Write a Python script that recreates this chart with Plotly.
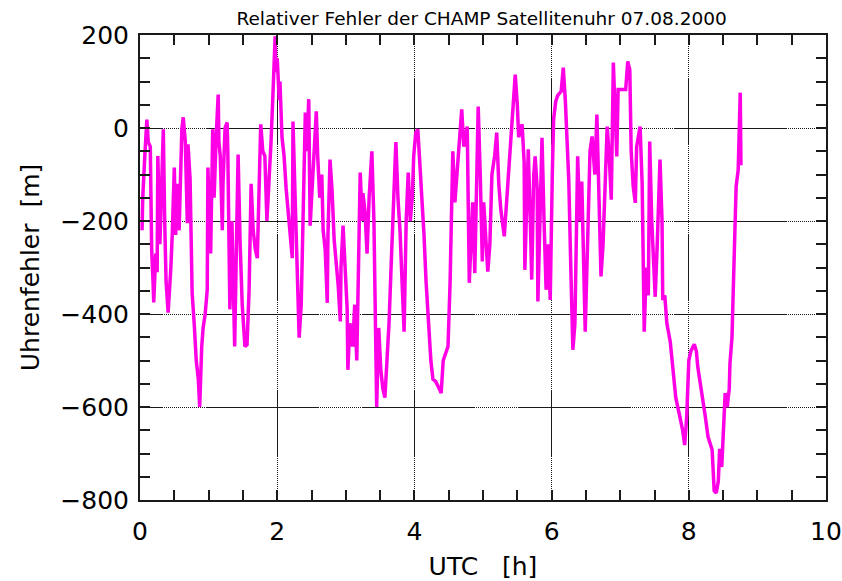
import plotly.graph_objects as go

# ---- data ----
utc_hours = [
    0.03, 0.04, 0.07, 0.10, 0.12, 0.15, 0.16, 0.17, 0.19, 0.20, 0.23, 0.25, 0.26, 0.28, 0.29, 0.31,
    0.34, 0.36, 0.38, 0.41, 0.44, 0.45, 0.47, 0.50, 0.52, 0.54, 0.57, 0.60, 0.61, 0.63, 0.66, 0.69,
    0.70, 0.73, 0.76, 0.79, 0.82, 0.85, 0.87, 0.90, 0.92, 0.95, 0.98, 0.99,
    1.02, 1.03, 1.06, 1.08, 1.11, 1.14, 1.15, 1.17, 1.20, 1.21, 1.24, 1.27, 1.28, 1.31, 1.34, 1.38,
    1.40, 1.43, 1.46, 1.49, 1.53, 1.56, 1.59, 1.62, 1.65, 1.68, 1.71, 1.73, 1.76, 1.79, 1.82, 1.85,
    1.88, 1.91, 1.94, 1.97, 1.98, 2.00, 2.03, 2.04, 2.07, 2.10, 2.13, 2.16, 2.19, 2.22, 2.23, 2.26,
    2.29, 2.32, 2.35, 2.38, 2.41, 2.43, 2.46, 2.48, 2.51, 2.54, 2.57, 2.59, 2.62, 2.65, 2.67, 2.70,
    2.73, 2.74, 2.77, 2.80, 2.83, 2.86, 2.89, 2.92, 2.93, 2.96, 2.99, 3.02, 3.03, 3.06, 3.10, 3.13,
    3.16, 3.19, 3.21, 3.24, 3.25, 3.28, 3.31, 3.34, 3.38, 3.41, 3.44, 3.45, 3.48, 3.51, 3.54, 3.57,
    3.60, 3.63, 3.66, 3.69, 3.72, 3.73, 3.76, 3.79, 3.82, 3.85, 3.88, 3.91, 3.94, 3.97, 3.99, 4.02,
    4.05, 4.08, 4.11, 4.14, 4.17, 4.20, 4.24, 4.27, 4.31, 4.36, 4.39, 4.42, 4.46, 4.49, 4.52, 4.55,
    4.56, 4.59, 4.62, 4.66, 4.69, 4.72, 4.77, 4.80, 4.83, 4.85, 4.88, 4.93, 4.96, 4.99, 5.01, 5.04,
    5.07, 5.10, 5.13, 5.17, 5.20, 5.23, 5.26, 5.31, 5.35, 5.39, 5.44, 5.47, 5.50, 5.52, 5.57, 5.60,
    5.61, 5.64, 5.66, 5.69, 5.71, 5.74, 5.76, 5.79, 5.80, 5.83, 5.86, 5.89, 5.92, 5.95, 5.98, 6.01,
    6.03, 6.06, 6.09, 6.14, 6.17, 6.20, 6.22, 6.25, 6.28, 6.31, 6.34, 6.38, 6.41, 6.44, 6.49, 6.52,
    6.56, 6.59, 6.63, 6.66, 6.69, 6.72, 6.75, 6.78, 6.81, 6.84, 6.87, 6.90, 6.92, 6.95, 6.97, 7.03,
    7.08, 7.11, 7.14, 7.16, 7.19, 7.22, 7.24, 7.29, 7.32, 7.35, 7.38, 7.41, 7.43, 7.46, 7.51, 7.54,
    7.58, 7.61, 7.62, 7.65, 7.68, 7.73, 7.77, 7.81, 7.87, 7.91, 7.94, 7.97, 8.00, 8.03, 8.08, 8.11,
    8.13, 8.16, 8.19, 8.24, 8.28, 8.31, 8.34, 8.37, 8.40, 8.43, 8.45, 8.48, 8.51, 8.53, 8.56, 8.59,
    8.60, 8.63, 8.64, 8.67, 8.69, 8.72, 8.75, 8.76,
]
clock_error_m = [
    -220, -150, -60, 18, -30, -40, -150, -260, -330, -375, -270, -310, -60, -200, -250, -150,
    -3, -200, -330, -397, -340, -300, -230, -85, -230, -120, -220, -60, -3, 23, -28, -205,
    -35, -110, -355, -420, -500, -540, -600, -470, -430, -400, -348, -85,
    -220, -270, -3, -150, -20, 72, -30, -60, -220, -120, 0, 12, -50, -390, -200, -470,
    -300, -57, -250, -380, -470, -466, -350, -120, -220, -260, -280, -150, 8, -50, -60, -200,
    -120, -30, 80, 197, 120, 150, 60, 100, -20, -60, -130, -180, -220, -280, 14, -150,
    -300, -451, -380, -200, 33, -50, 62, -210, -120, -40, 36, -60, -150, -100, -220, -262,
    -376, -230, -68, -135, -240, -290, -340, -416, -300, -210, -300, -390, -520, -420, -470, -380,
    -500, -300, -96, -200, -140, -180, -270, -150, -50, -200, -430, -600, -430, -520, -560, -580,
    -500, -420, -300, -200, -100, -30, -150, -220, -330, -438, -200, -96, -200, -147, -60, -10,
    -3, -74, -160, -230, -330, -405, -500, -540, -545, -560, -570, -500, -480, -470, -333, -160,
    -50, -160, -100, -30, 40, -40, 3, -333, -200, -160, -312, 46, -100, -287, -160, -230,
    -309, -250, -100, -60, -10, -120, -176, -233, -150, -50, 60, 115, 50, -20, 8, -75,
    -305, -150, -46, -200, -326, -100, -61, -130, -373, -200, -21, -200, -348, -250, -370, -100,
    20, 57, 70, 79, 130, 60, -3, -111, -300, -477, -420, -61, -200, -115, -438, -280,
    -50, -18, -100, 29, -160, -319, -250, -100, 3, -60, -154, 141, 60, -61, 83, 83,
    83, 143, 125, -50, -126, -161, -40, 3, -120, -438, -300, -360, -29, -200, -363, -250,
    -68, -200, -370, -360, -420, -460, -530, -580, -621, -650, -682, -620, -500, -480, -465, -480,
    -513, -540, -570, -620, -664, -680, -692, -780, -785, -760, -690, -729, -640, -570, -600, -560,
    -506, -449, -392, -262, -126, -90, 76, -80,
]

x_tick_values = [0, 2, 4, 6, 8, 10]
y_tick_values = [-800, -600, -400, -200, 0, 200]
title_text = "Relativer Fehler der CHAMP Satellitenuhr 07.08.2000"
x_title = "UTC\u00a0\u00a0\u00a0[h]"
y_title = "Uhrenfehler\u00a0\u00a0[m]"

# ---- styles ----
LINE_COLOR = "#ff00e6"
FONT = "DejaVu Sans"


def dash_pattern(first_on, dotted_first, solid, dotted, total):
    """Build an SVG dash list: solid pieces separated by 1px dotted runs."""
    parts = [first_on]
    length = first_on
    run = dotted_first
    while length < total:
        n = run if run % 2 == 1 else run - 1
        parts.extend([1] * n)
        length += n
        parts.append(solid)
        length += solid
        run = dotted
    return ",".join(f"{p}px" for p in parts)


h_dash = dash_pattern(23, 44, 113, 44, 720)
v_dash = dash_pattern(0, 43, 67, 89, 500)

fig = go.Figure()
fig.add_trace(go.Scatter(
    x=utc_hours, y=clock_error_m, mode="lines",
    line=dict(color=LINE_COLOR, width=3.5),
    showlegend=False,
))

axis_common = dict(
    showline=True, linecolor="#1a1a1a", linewidth=2, mirror="allticks",
    ticks="inside", ticklen=10, tickcolor="#1a1a1a", tickwidth=1.5,
    showgrid=True, gridcolor="#1a1a1a", gridwidth=1,
    zeroline=False, automargin=False,
    tickfont=dict(family=FONT, size=25, color="black"),
)

fig.update_xaxes(
    range=[0, 10], tickvals=x_tick_values,
    griddash=v_dash,
    minor=dict(dtick=0.5, ticks="inside", ticklen=10, tickcolor="#1a1a1a", tickwidth=1.5, showgrid=False),
    title=dict(text=x_title, font=dict(family=FONT, size=25, color="black"), standoff=16),
    ticklabelstandoff=8,
    **axis_common,
)
fig.update_yaxes(
    range=[-800, 200], tickvals=y_tick_values,
    griddash=h_dash,
    minor=dict(dtick=50, ticks="inside", ticklen=10, tickcolor="#1a1a1a", tickwidth=1.5, showgrid=False),
    title=dict(text=y_title, font=dict(family=FONT, size=25, color="black"), standoff=14),
    ticklabelstandoff=4,
    **axis_common,
)

fig.update_layout(
    width=842, height=581,
    margin=dict(l=140, r=16, t=35, b=81),
    paper_bgcolor="white", plot_bgcolor="white",
    title=dict(text=title_text, x=0.572, xanchor="center", y=0.968, yanchor="middle",
               font=dict(family=FONT, size=18.5, color="black")),
)

fig.write_html("out.html")
